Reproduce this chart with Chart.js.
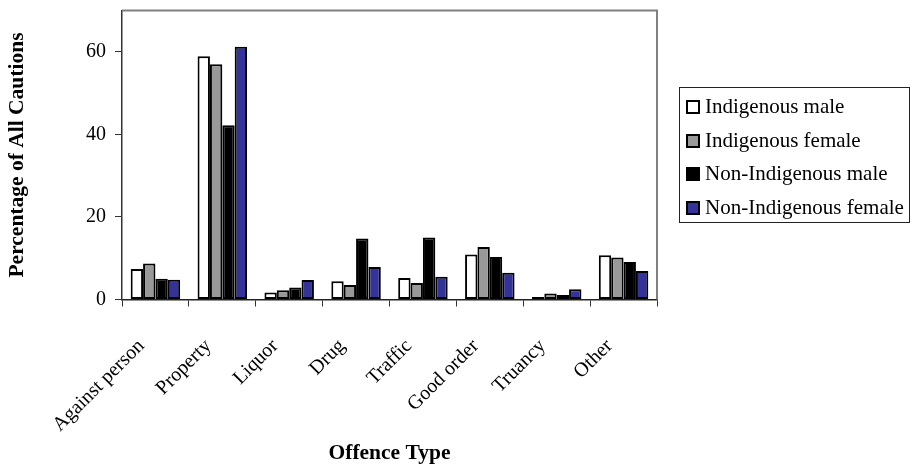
<!DOCTYPE html>
<html>
<head>
<meta charset="utf-8">
<script src="https://cdn.jsdelivr.net/npm/chart.js@4.4.1/dist/chart.umd.min.js"></script>
<style>
  body { margin: 0; background: #fff; }
  #wrap { position: relative; width: 911px; height: 466px; }
  #legend {
    position: absolute; left: 679px; top: 87px; width: 231px; height: 136px;
    border: 1px solid #222; box-sizing: border-box;
    font-family: "Liberation Serif", "Times New Roman", serif; font-size: 21px; color: #000;
  }
  .row { position: absolute; left: 6px; height: 34px; line-height: 34px; white-space: nowrap; }
  .swatch {
    display: inline-block; width: 14px; height: 14px; box-sizing: border-box;
    border: 2px solid #000; margin-right: 5px; vertical-align: -1px;
  }
</style>
</head>
<body>
<div id="wrap">
  <canvas id="chart" width="911" height="466"></canvas>
  <div id="legend"></div>
</div>
<script>
// 범주와 계열 데이터
const categories = ['Against person', 'Property', 'Liquor', 'Drug', 'Traffic', 'Good order', 'Truancy', 'Other'];
const seriesNames = ['Indigenous male', 'Indigenous female', 'Non-Indigenous male', 'Non-Indigenous female'];
const indigenousMale = [7.4, 58.9, 1.7, 4.4, 5.2, 10.9, 0.6, 10.7];
const indigenousFemale = [8.7, 57.0, 2.25, 3.5, 4.0, 12.7, 1.45, 10.2];
const nonIndigenousMale = [5.0, 42.2, 2.9, 14.8, 15.0, 10.3, 1.1, 9.1];
const nonIndigenousFemale = [4.8, 61.2, 4.7, 7.9, 5.5, 6.5, 2.5, 6.9];
const yTicks = [0, 20, 40, 60];

const FILLS = ['#ffffff', '#999999', '#000000', '#333399'];
const SERIF = '"Liberation Serif", "Times New Roman", serif';

const values = [indigenousMale, indigenousFemale, nonIndigenousMale, nonIndigenousFemale];

// 플롯 영역 테두리 (위/오른쪽 회색 선)
const plotFrame = {
    id: 'plotFrame',
    beforeDatasetsDraw(chart) {
        const { ctx, chartArea: a } = chart;
        ctx.save();
        ctx.strokeStyle = '#808080';
        ctx.lineWidth = 2;
        ctx.beginPath();
        ctx.moveTo(a.left, a.top);
        ctx.lineTo(a.right, a.top);
        ctx.lineTo(a.right, a.bottom);
        ctx.stroke();
        ctx.restore();
    }
};

const chart = new Chart(document.getElementById('chart'), {
    type: 'bar',
    data: {
        labels: categories,
        datasets: seriesNames.map((name, i) => ({
            label: name,
            data: values[i],
            backgroundColor: FILLS[i],
            borderColor: '#000000',
            borderWidth: 2,
            borderSkipped: false,
            categoryPercentage: 0.74,
            barPercentage: 1.0
        }))
    },
    options: {
        responsive: false,
        animation: false,
        layout: { padding: { top: 10.5, right: 254, bottom: 0, left: 0 } },
        plugins: {
            legend: { display: false },
            tooltip: { enabled: false }
        },
        scales: {
            x: {
                afterFit(scale) { scale.height = 166.5; },
                grid: { drawOnChartArea: false, tickLength: 7, color: '#333' },
                border: { color: '#222', width: 1.5 },
                ticks: {
                    autoSkip: false,
                    minRotation: 45,
                    maxRotation: 45,
                    labelOffset: -14,
                    padding: 28,
                    color: '#000',
                    font: { family: SERIF, size: 20 }
                },
                title: {
                    display: true,
                    text: 'Offence Type',
                    color: '#000',
                    font: { family: SERIF, size: 21.5, weight: 'bold', lineHeight: 1.2 },
                    padding: { top: 0, bottom: 0 }
                }
            },
            y: {
                min: 0,
                max: 70,
                afterFit(scale) {
                    scale.width = 122;
                    scale.paddingTop = 0;
                    scale.paddingBottom = 0;
                },
                afterBuildTicks(scale) { scale.ticks = yTicks.map(v => ({ value: v })); },
                grid: { drawOnChartArea: false, tickLength: 7, color: '#333' },
                border: { color: '#333', width: 1.5 },
                ticks: {
                    padding: 9,
                    color: '#000',
                    font: { family: SERIF, size: 20 }
                },
                title: {
                    display: true,
                    text: 'Percentage of All Cautions',
                    color: '#000',
                    font: { family: SERIF, size: 21.5, weight: 'bold', lineHeight: 1.2 },
                    padding: { top: 5, bottom: 0 }
                }
            }
        }
    },
    plugins: [plotFrame]
});

// 범례
const legend = document.getElementById('legend');
seriesNames.forEach((name, i) => {
    const row = document.createElement('div');
    row.className = 'row';
    row.style.top = (1 + i * 33.7) + 'px';
    row.innerHTML = `<span class="swatch" style="background:${FILLS[i]}"></span>${name}`;
    legend.appendChild(row);
});
</script>
</body>
</html>
